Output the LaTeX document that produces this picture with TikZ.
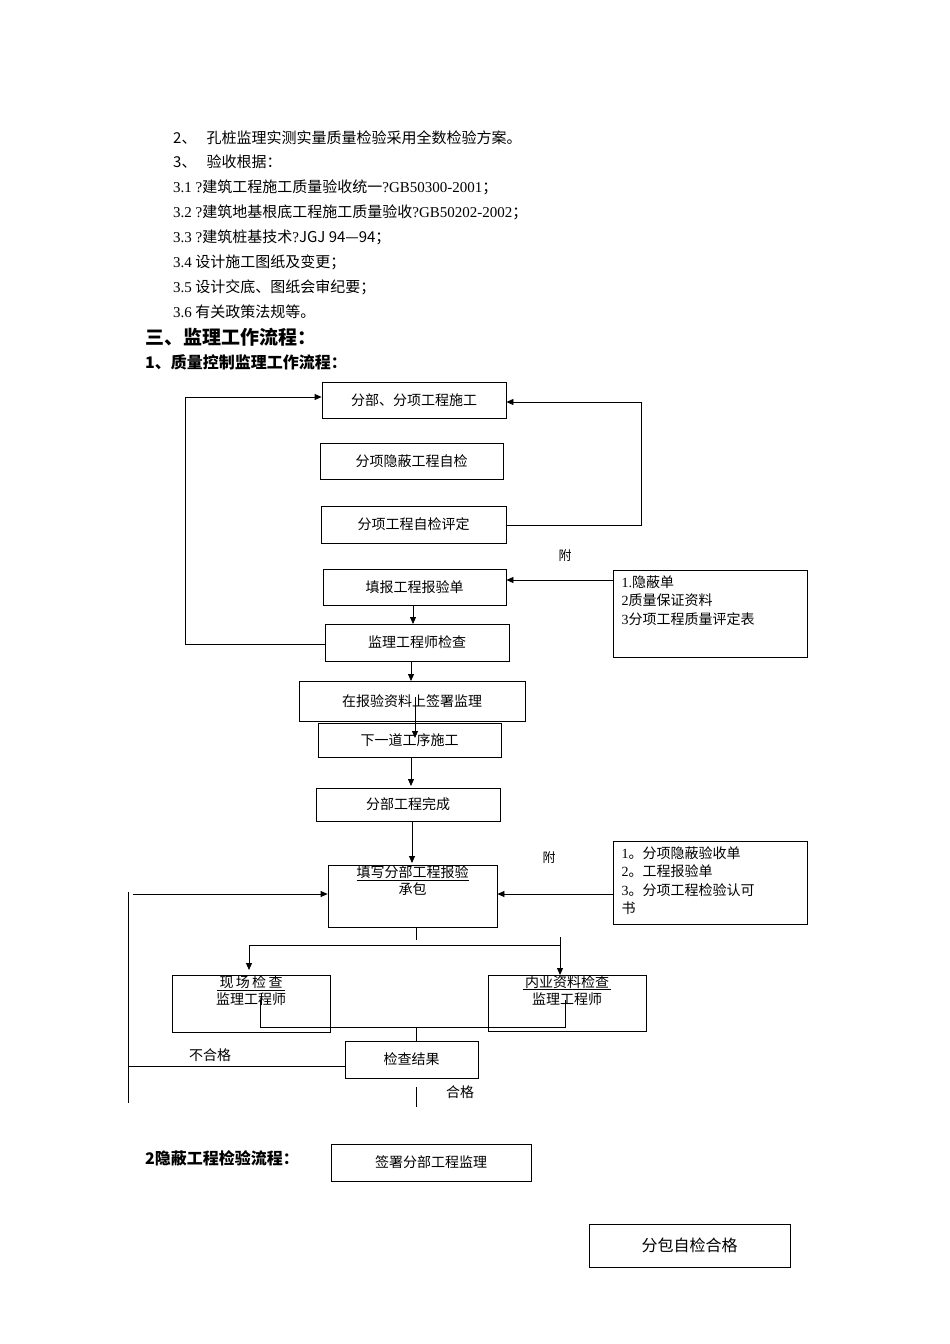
\documentclass[tikz,border=0pt]{standalone}
\usepackage{fontspec}
\setmainfont{Noto Sans CJK SC}
\newfontfamily\lat{Liberation Serif}
\usetikzlibrary{arrows.meta}
\begin{document}
\begin{tikzpicture}[x=1pt,y=-1pt,
 bx/.style={draw,line width=0.8pt,font=\fontsize{14}{17}\selectfont,inner sep=0pt},
 ln/.style={line width=0.8pt},
 ar/.style={line width=0.8pt,-{Triangle[length=7pt,width=6pt]}},
 tx/.style={anchor=west,inner sep=0pt,font=\fontsize{15}{17}\selectfont}]
\useasboundingbox (0,0) rectangle (950,1344);
% text
\node[tx] (t1) at (173,138) {2、\hspace{10pt}孔桩监理实测实量质量检验采用全数检验方案。};
\node[tx] (t2) at (173,162) {3、\hspace{10pt}验收根据：};
\node[tx] (t3) at (173,187) {{\lat 3.1 ?}建筑工程施工质量验收统一{\lat ?GB50300-2001}；};
\node[tx] (t4) at (173,212) {{\lat 3.2 ?}建筑地基根底工程施工质量验收{\lat ?GB50202-2002}；};
\node[tx] (t5) at (173,237) {{\lat 3.3 ?}建筑桩基技术{\lat ?}JGJ 94—94；};
\node[tx] (t6) at (173,262) {{\lat 3.4} 设计施工图纸及变更；};
\node[tx] (t7) at (173,287) {{\lat 3.5} 设计交底、图纸会审纪要；};
\node[tx] (t8) at (173,312) {{\lat 3.6} 有关政策法规等。};
\node[tx,font=\fontsize{19}{21}\selectfont\bfseries] (h1) at (145,337) {三、监理工作流程：};
\node[tx,font=\fontsize{16}{18}\selectfont\bfseries] (h2) at (145,362) {1、质量控制监理工作流程：};
\node[tx,font=\fontsize{16}{18}\selectfont\bfseries] (h3) at (145,1158) {2隐蔽工程检验流程：};
% boxes
\node[bx,minimum width=184pt,minimum height=36pt] (A) at (414,400) {分部、分项工程施工};
\node[bx,minimum width=183pt,minimum height=36pt] (B) at (411.5,461) {分项隐蔽工程自检};
\node[bx,minimum width=185pt,minimum height=37pt] (C) at (413.5,524.5) {分项工程自检评定};
\node[bx,minimum width=183pt,minimum height=36pt] (D) at (414.5,587) {填报工程报验单};
\node[bx,minimum width=184pt,minimum height=37pt] (E) at (417,642.5) {监理工程师检查};
\node[bx,minimum width=226pt,minimum height=40pt] (F) at (412,701) {在报验资料上签署监理};
\node[bx,minimum width=183pt,minimum height=34pt] (G) at (409.5,740) {下一道工序施工};
\node[bx,minimum width=184pt,minimum height=33pt] (H) at (408,804.5) {分部工程完成};
\node[bx,minimum width=169pt,minimum height=62pt] (I) at (412.5,896) {};
\node[font=\fontsize{14}{17}\selectfont,align=center,anchor=north] (It) at (I.north) {\\[-8pt]\underline{填写分部工程报验}\\承包};
\node[bx,minimum width=158pt,minimum height=57pt] (J) at (251,1003.5) {};
\node[font=\fontsize{14}{17}\selectfont,align=center,anchor=north] (Jt) at (J.north) {\\[-8pt]\underline{\,现\,场\,检\,查\,}\\监理工程师};
\node[bx,minimum width=158pt,minimum height=56pt] (K) at (567,1003) {};
\node[font=\fontsize{14}{17}\selectfont,align=center,anchor=north] (Kt) at (K.north) {\\[-8pt]\underline{\,内业资料检查\,}\\监理工程师};
\node[bx,minimum width=133pt,minimum height=37pt] (L) at (411.5,1059.5) {检查结果};
\node[bx,minimum width=200pt,minimum height=37pt] (M) at (431,1162.5) {签署分部工程监理};
\node[bx,minimum width=201pt,minimum height=43pt,font=\fontsize{16}{18}\selectfont] (N) at (689.5,1245.5) {分包自检合格};
\node[bx,minimum width=194pt,minimum height=87pt] (P1) at (710,613.5) {};
\node[font=\fontsize{14}{18.5}\selectfont,align=left,anchor=north west] (P1t) at (618,572) {{\lat 1.}隐蔽单\\{\lat 2}质量保证资料\\{\lat 3}分项工程质量评定表};
\node[bx,minimum width=194pt,minimum height=83pt] (P2) at (710,882.5) {};
\node[font=\fontsize{14}{18.5}\selectfont,align=left,anchor=north west] (P2t) at (618,843) {{\lat 1}。分项隐蔽验收单\\{\lat 2}。工程报验单\\{\lat 3}。分项工程检验认可\\书};
\node[font=\fontsize{13}{15}\selectfont] (f1) at (565,556) {附};
\node[font=\fontsize{13}{15}\selectfont] (f2) at (549,858) {附};
\node[font=\fontsize{14}{15}\selectfont] (bh) at (210,1055) {不合格};
\node[font=\fontsize{14}{15}\selectfont] (hg) at (460,1092) {合格};
% coordinates
\coordinate (l1) at (185,644); \coordinate (l2) at (185,397);
\coordinate (r1) at (641,525); \coordinate (r2) at (641,402);
\coordinate (v1) at (128,892); \coordinate (v2) at (128,1103);
\coordinate (s1) at (416,940); \coordinate (s2) at (249,945); \coordinate (s3) at (560,945); \coordinate (s0) at (560,937);
\coordinate (j1) at (260,1000); \coordinate (j2) at (260,1027); \coordinate (j3) at (565,1027); \coordinate (j4) at (565,1000);
\coordinate (j5) at (416,1027); \coordinate (b1) at (416,1087); \coordinate (b2) at (416,1107);
\coordinate (lm) at (128,1066); \coordinate (ls) at (133,894);
% connectors
\draw[ar] (E.west |- l1) -- (l1) -- (l2) -- (A.west |- l2);
\draw[ar] (C.east |- r1) -- (r1) -- (r2) -- (A.east |- r2);
\draw[ar] (P1.west |- 0,580) -- (D.east |- 0,580);
\draw[ar] (413,605) -- (413,624);
\draw[ar] (411,661) -- (411,681);
\draw[ar] (415,697) -- (415,738);
\draw[ar] (411,757) -- (411,786);
\draw[ar] (412,821) -- (412,863);
\draw[ar] (P2.west |- 0,894) -- (I.east |- 0,894);
\draw[ar] (ls) -- (I.west |- ls);
\draw[ln] (v1) -- (v2);
\draw[ln] (L.west |- lm) -- (lm);
\draw[ln] (I.south -| s1) -- (s1);
\draw[ar] (s3) -- (s2) -- (249,970);
\draw[ar] (s0) -- (560,975);
\draw[ln] (j1) -- (j2) -- (j3) -- (j4);
\draw[ln] (j5) -- (L.north -| j5);
\draw[ln] (b1) -- (b2);
\end{tikzpicture}
\end{document}
